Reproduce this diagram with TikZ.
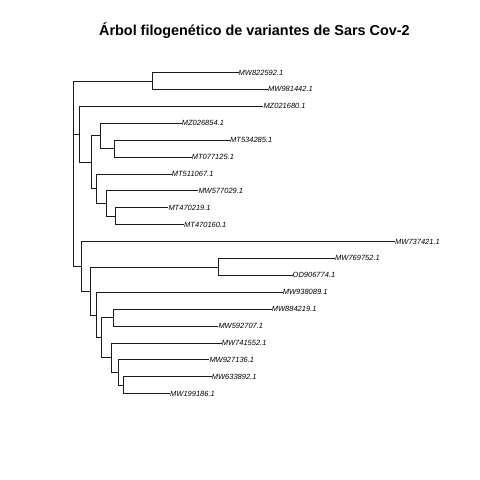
\documentclass[tikz,border=0pt]{standalone}
\usepackage{fontspec}
\setmainfont{Liberation Sans}
\usepackage{tikz}

\begin{document}
\begin{tikzpicture}[x=1pt,y=-1pt,
    branch/.style={line width=0.8pt,black!90},
    tip/.style={anchor=west,inner sep=0pt,font=\fontsize{7.5}{8}\selectfont\itshape},
    heading/.style={anchor=base,font=\fontsize{14.4}{16}\selectfont\bfseries}]
    \useasboundingbox (0,0) rectangle (480,480);

    \node[heading] (title) at (254.4,35.7) {Árbol filogenético de variantes de Sars Cov-2};

    \foreach \n/\x/\y/\lab in {1/238.5/72.5/MW822592.1, 2/268/89.4/MW981442.1,
        3/263.3/106.3/MZ021680.1, 4/181.7/123.2/MZ026854.1, 5/230/140.1/MT534285.1,
        6/191.7/157/MT077125.1, 7/171.7/173.9/MT511067.1, 8/198.3/190.8/MW577029.1,
        9/168.3/207.7/MT470219.1, 10/184/224.6/MT470160.1, 11/395/241.5/MW737421.1,
        12/335/258.4/MW769752.1, 13/292.5/275.3/OD906774.1, 14/282.7/292.2/MW938089.1,
        15/271.7/309.1/MW884219.1, 16/218.3/326/MW592707.1, 17/221.7/342.9/MW741552.1,
        18/209.3/359.8/MW927136.1, 19/211.7/376.7/MW633892.1, 20/170/393.6/MW199186.1}
    {
        \coordinate (t\n) at (\x,\y);
        \node[tip] (l\n) at (t\n) {\lab};
    }

    \coordinate (R) at (73.3,173.6);
    \coordinate (Q) at (152.3,81);
    \coordinate (A) at (79.3,134.2);
    \coordinate (B) at (91,162.1);
    \coordinate (C) at (100,135.6);
    \coordinate (D) at (114.3,148.5);
    \coordinate (E) at (96.7,188.7);
    \coordinate (F) at (106.7,203.5);
    \coordinate (G) at (115,216.2);
    \coordinate (H) at (81,266.2);
    \coordinate (I) at (90.3,290.9);
    \coordinate (J) at (218.3,266.9);
    \coordinate (K) at (96,314.9);
    \coordinate (L) at (101,337.6);
    \coordinate (M) at (113.3,317.6);
    \coordinate (N) at (111.7,357.7);
    \coordinate (O) at (118.3,372.5);
    \coordinate (P) at (123.3,385.2);

    \foreach \p/\c in {R/Q, R/A, R/H, Q/t1, Q/t2, A/t3, A/B, B/C, B/E, C/t4, C/D,
        D/t5, D/t6, E/t7, E/F, F/t8, F/G, G/t9, G/t10, H/t11, H/I, I/J, I/K,
        J/t12, J/t13, K/t14, K/L, L/M, L/N, M/t15, M/t16, N/t17, N/O, O/t18,
        O/P, P/t19, P/t20}
        \draw[branch] (\p) |- (\c);
\end{tikzpicture}
\end{document}
